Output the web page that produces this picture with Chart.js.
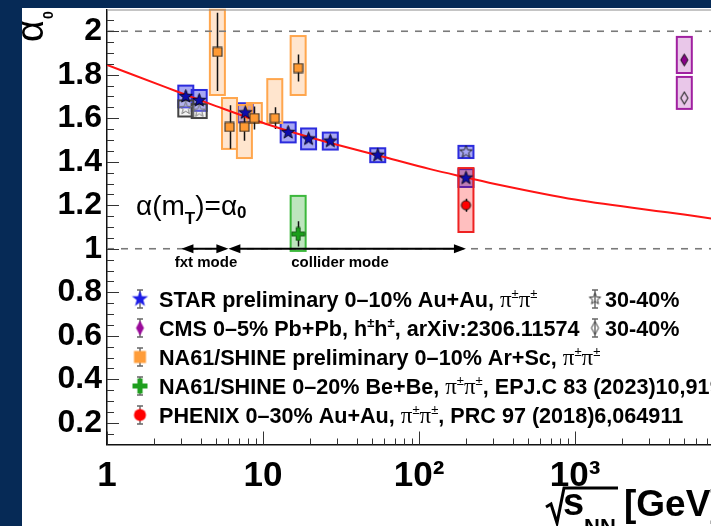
<!DOCTYPE html>
<html>
<head>
<meta charset="utf-8">
<script src="https://cdn.jsdelivr.net/npm/chart.js@4/dist/chart.umd.min.js"></script>
<style>
  html, body { margin: 0; padding: 0; width: 711px; height: 526px; overflow: hidden; background: #062a56; }
  #panel { position: absolute; left: 22px; top: 8px; width: 760px; height: 530px; background: #ffffff; }
  #c { position: absolute; left: 0; top: 0; }
</style>
</head>
<body>
<div id="panel"><canvas id="c" width="740" height="518"></canvas></div>
<script>
// ---------- axis ticks ----------
const xTickValues = [1, 10, 100, 1000];
const xTickLabels = ['1', '10', '10²', '10³'];
const yTickValues = [0.2, 0.4, 0.6, 0.8, 1.0, 1.2, 1.4, 1.6, 1.8, 2.0];
const yTickLabels = ['0.2', '0.4', '0.6', '0.8', '1', '1.2', '1.4', '1.6', '1.8', '2'];

// ---------- STAR preliminary, Au+Au, pi pi ----------
const starEnergy = [3.2, 3.9, 7.7, 14.5, 19.6, 27, 54.4, 200];
const starAlpha  = [1.700, 1.682, 1.625, 1.535, 1.505, 1.495, 1.430, 1.325];
const starSys    = [0.050, 0.048, 0.044, 0.046, 0.048, 0.039, 0.032, 0.041];

const star3040FxtEnergy = [3.2, 3.9];
const star3040FxtAlpha  = [1.645, 1.633];
const star3040FxtSys    = [0.037, 0.032];

const star3040ColEnergy = [200];
const star3040ColAlpha  = [1.445];
const star3040ColSys    = [0.028];

// ---------- CMS Pb+Pb, h h ----------
const cmsEnergy      = [5020];
const cmsAlpha       = [1.868];
const cmsSysLow      = [1.808];
const cmsSysHigh     = [1.974];
const cms3040Alpha   = [1.693];
const cms3040SysLow  = [1.643];
const cms3040SysHigh = [1.790];

// ---------- NA61/SHINE Ar+Sc ----------
const arscEnergy  = [5.1, 6.1, 7.6, 8.8, 11.9, 16.8];
const arscAlpha   = [1.905, 1.560, 1.560, 1.601, 1.601, 1.831];
const arscStat    = [0.180, 0.100, 0.063, 0.053, 0.050, 0.062];
const arscSysLow  = [1.707, 1.459, 1.417, 1.578, 1.578, 1.707];
const arscSysHigh = [2.100, 1.693, 1.661, 1.670, 1.780, 1.978];

// ---------- NA61/SHINE Be+Be ----------
const bebeEnergy  = [16.8];
const bebeAlpha   = [1.068];
const bebeStat    = [0.058];
const bebeSysLow  = [0.990];
const bebeSysHigh = [1.243];

// ---------- PHENIX Au+Au ----------
const phenixEnergy  = [200];
const phenixAlpha   = [1.200];
const phenixStat    = [0.030];
const phenixSysLow  = [1.077];
const phenixSysHigh = [1.371];

// ---------- trend curve ----------
const fitEnergy = [1, 2.35, 5, 11, 23, 55, 118, 200, 330, 1000, 5000, 7450, 10000];
const fitAlpha  = [1.845, 1.744, 1.656, 1.569, 1.500, 1.429, 1.366, 1.328, 1.293, 1.226, 1.157, 1.139, 1.127];

// ---------- reference levels and energy regimes ----------
const refLevels = [1.0, 2.0];
const xRange = [1, 10000];
const fxtRange = [3.0, 6.0];
const colliderRange = [6.0, 200];

// ---------- marker images ----------
function buildMarker(w, h, paint) {
  const c = document.createElement('canvas');
  c.width = w; c.height = h;
  paint(c.getContext('2d'), w / 2, h / 2);
  return c;
}
function starPath(g, cx, cy, R, r) {
  g.beginPath();
  for (let k = 0; k < 10; k++) {
    const rad = k % 2 ? r : R;
    const a = -Math.PI / 2 + k * Math.PI / 5;
    g.lineTo(cx + rad * Math.cos(a), cy + rad * Math.sin(a));
  }
  g.closePath();
}
function diamondPath(g, cx, cy, hw, hh) {
  g.beginPath();
  g.moveTo(cx, cy - hh); g.lineTo(cx + hw, cy); g.lineTo(cx, cy + hh); g.lineTo(cx - hw, cy);
  g.closePath();
}
function crossPath(g, cx, cy, L, t) {
  g.beginPath();
  g.moveTo(cx - t, cy - L); g.lineTo(cx + t, cy - L); g.lineTo(cx + t, cy - t); g.lineTo(cx + L, cy - t);
  g.lineTo(cx + L, cy + t); g.lineTo(cx + t, cy + t); g.lineTo(cx + t, cy + L); g.lineTo(cx - t, cy + L);
  g.lineTo(cx - t, cy + t); g.lineTo(cx - L, cy + t); g.lineTo(cx - L, cy - t); g.lineTo(cx - t, cy - t);
  g.closePath();
}

const mStar = buildMarker(17, 17, (g, x, y) => { starPath(g, x, y, 7, 2.9); g.fillStyle = '#0c0cae'; g.fill(); g.lineWidth = 0.8; g.strokeStyle = '#000'; g.stroke(); });
const mStarOpen = buildMarker(17, 17, (g, x, y) => { starPath(g, x, y, 6.5, 2.7); g.lineWidth = 1; g.strokeStyle = '#222'; g.stroke(); });
const mStarOpenGray = buildMarker(17, 17, (g, x, y) => { starPath(g, x, y, 6.5, 2.7); g.lineWidth = 1; g.strokeStyle = '#777'; g.stroke(); });
const mDiamond = buildMarker(11, 15, (g, x, y) => { diamondPath(g, x, y, 3.6, 6); g.fillStyle = '#8b008b'; g.fill(); g.lineWidth = 1; g.strokeStyle = '#111'; g.stroke(); });
const mDiamondOpen = buildMarker(11, 15, (g, x, y) => { diamondPath(g, x, y, 3.6, 6); g.lineWidth = 1.1; g.strokeStyle = '#222'; g.stroke(); });
const mSquare = buildMarker(11, 11, (g, x, y) => { g.fillStyle = '#ff9a33'; g.fillRect(x - 4.5, y - 4.5, 9, 9); g.lineWidth = 1; g.strokeStyle = '#222'; g.strokeRect(x - 4.5, y - 4.5, 9, 9); });
const mCross = buildMarker(15, 15, (g, x, y) => { crossPath(g, x, y, 6.5, 2); g.fillStyle = '#1a9e1a'; g.fill(); g.lineWidth = 0.8; g.strokeStyle = '#0a4a0a'; g.stroke(); });
const mCircle = buildMarker(13, 13, (g, x, y) => { g.beginPath(); g.arc(x, y, 4.6, 0, Math.PI * 2); g.fillStyle = '#ff0000'; g.fill(); g.lineWidth = 1; g.strokeStyle = '#111'; g.stroke(); });

// legend glyphs
const lStar = buildMarker(19, 19, (g, x, y) => { starPath(g, x, y, 8.5, 3.5); g.fillStyle = '#1c1ce6'; g.fill(); });
const lStarOpen = buildMarker(15, 15, (g, x, y) => { starPath(g, x, y, 6, 2.5); g.lineWidth = 1; g.strokeStyle = '#333'; g.stroke(); });
const lDiamond = buildMarker(11, 17, (g, x, y) => { diamondPath(g, x, y, 4, 7.5); g.fillStyle = '#9a0a9a'; g.fill(); });
const lDiamondOpen = buildMarker(11, 17, (g, x, y) => { diamondPath(g, x, y, 3.6, 6.5); g.lineWidth = 1; g.strokeStyle = '#333'; g.stroke(); });
const lSquare = buildMarker(15, 15, (g, x, y) => { g.fillStyle = '#ff9d3a'; g.fillRect(x - 6, y - 6, 12, 12); });
const lCross = buildMarker(17, 17, (g, x, y) => { crossPath(g, x, y, 7.5, 2.6); g.fillStyle = '#1f9f1f'; g.fill(); });
const lCircle = buildMarker(15, 15, (g, x, y) => { g.beginPath(); g.arc(x, y, 6, 0, Math.PI * 2); g.fillStyle = '#ff0000'; g.fill(); });

// ---------- helpers ----------
const pts = (xs, ys) => xs.map((x, i) => ({ x: x, y: ys[i] }));
const lowOf = (a, s) => a.map((v, i) => v - s[i]);
const highOf = (a, s) => a.map((v, i) => v + s[i]);
const zeros = n => new Array(n).fill(0);

const boxStyles = {
  star:   { stroke: '#2b2bdd', fill: 'rgba(60,60,230,0.45)' },
  gray:   { stroke: '#444444', fill: 'rgba(210,210,210,0.25)' },
  cms:    { stroke: '#a020a0', fill: 'rgba(153,0,153,0.22)' },
  na61:   { stroke: '#ffa64d', fill: 'rgba(255,150,60,0.25)' },
  bebe:   { stroke: '#3cb83c', fill: 'rgba(40,170,40,0.30)' },
  phenix: { stroke: '#ee2222', fill: 'rgba(255,0,0,0.25)' }
};

function markerSet(label, xs, ys, img, lo, hi, stat, box, order) {
  return {
    type: 'scatter', label: label, data: pts(xs, ys), pointStyle: img, pointRadius: 5,
    showLine: false, order: order, sysLow: lo, sysHigh: hi, statErr: stat, box: box
  };
}

const datasets = [
  markerSet('PHENIX 0-30%', phenixEnergy, phenixAlpha, mCircle, phenixSysLow, phenixSysHigh, phenixStat, boxStyles.phenix, 1),
  markerSet('NA61 Be+Be', bebeEnergy, bebeAlpha, mCross, bebeSysLow, bebeSysHigh, bebeStat, boxStyles.bebe, 1),
  markerSet('NA61 Ar+Sc', arscEnergy, arscAlpha, mSquare, arscSysLow, arscSysHigh, arscStat, boxStyles.na61, 1),
  markerSet('CMS 0-5%', cmsEnergy, cmsAlpha, mDiamond, cmsSysLow, cmsSysHigh, zeros(1), boxStyles.cms, 1),
  markerSet('CMS 30-40%', cmsEnergy, cms3040Alpha, mDiamondOpen, cms3040SysLow, cms3040SysHigh, zeros(1), boxStyles.cms, 1),
  markerSet('STAR 0-10%', starEnergy, starAlpha, mStar, lowOf(starAlpha, starSys), highOf(starAlpha, starSys), zeros(starEnergy.length), boxStyles.star, 2),
  markerSet('STAR 30-40% fxt', star3040FxtEnergy, star3040FxtAlpha, mStarOpenGray, lowOf(star3040FxtAlpha, star3040FxtSys), highOf(star3040FxtAlpha, star3040FxtSys), zeros(2), boxStyles.gray, 3),
  markerSet('STAR 30-40%', star3040ColEnergy, star3040ColAlpha, mStarOpen, lowOf(star3040ColAlpha, star3040ColSys), highOf(star3040ColAlpha, star3040ColSys), zeros(1), boxStyles.star, 2),
  {
    type: 'line', label: 'trend', data: pts(fitEnergy, fitAlpha), borderColor: '#ff1414', borderWidth: 2,
    pointRadius: 0, cubicInterpolationMode: 'monotone', fill: false, order: 4
  }
].concat(refLevels.map(level => ({
  type: 'line', label: 'level ' + level, data: pts(xRange, [level, level]), borderColor: '#7a7a7a',
  borderWidth: 1.6, borderDash: [7, 7], pointRadius: 0, fill: false, order: 8
})));

// ---------- canvas placement (page -> canvas coordinates) ----------
const OX = 22, OY = 8;

// text runs: [font, text, dy]
const F  = 'bold 21.6px "Liberation Sans"';
const PI = '23px "Liberation Serif"';
const SUP = '13px "Liberation Sans"';
const SUPB = 'bold 13px "Liberation Sans"';
const piPi = [[PI, 'π'], [SUP, '±', -9], [PI, 'π'], [SUP, '±', -9]];

const legendRows = [
  { glyph: lStar, parts: [[F, 'STAR preliminary 0–10% Au+Au, ']].concat(piPi),
    extra: { glyph: lStarOpen, parts: [[F, '30-40%']] } },
  { glyph: lDiamond, parts: [[F, 'CMS 0–5% Pb+Pb, h'], [SUPB, '±', -9], [F, 'h'], [SUPB, '±', -9], [F, ', arXiv:2306.11574']],
    extra: { glyph: lDiamondOpen, parts: [[F, '30-40%']] } },
  { glyph: lSquare, parts: [[F, 'NA61/SHINE preliminary 0–10% Ar+Sc, ']].concat(piPi) },
  { glyph: lCross, parts: [[F, 'NA61/SHINE 0–20% Be+Be, ']].concat(piPi).concat([[F, ', EPJ.C 83 (2023)10,919']]) },
  { glyph: lCircle, parts: [[F, 'PHENIX 0–30% Au+Au, ']].concat(piPi).concat([[F, ', PRC 97 (2018)6,064911']]) }
];

function drawRuns(ctx, x, y, parts) {
  for (const p of parts) {
    ctx.font = p[0];
    ctx.fillText(p[1], x, y + (p[2] || 0));
    x += ctx.measureText(p[1]).width;
  }
  return x;
}
function legendErrorBar(ctx, x, y) {
  ctx.strokeStyle = '#666'; ctx.lineWidth = 1.4;
  ctx.beginPath();
  ctx.moveTo(x, y - 9); ctx.lineTo(x, y + 9);
  ctx.moveTo(x - 3, y - 9); ctx.lineTo(x + 3, y - 9);
  ctx.moveTo(x - 3, y + 9); ctx.lineTo(x + 3, y + 9);
  ctx.stroke();
}
function arrowHead(ctx, tipX, y, dir) {
  ctx.beginPath();
  ctx.moveTo(tipX, y);
  ctx.lineTo(tipX - dir * 12, y - 4.5);
  ctx.lineTo(tipX - dir * 12, y + 4.5);
  ctx.closePath();
  ctx.fill();
}

const decorations = {
  id: 'decorations',
  beforeDatasetsDraw(chart) {
    const ctx = chart.ctx, area = chart.chartArea;
    const xs = chart.scales.x, ys = chart.scales.y;
    ctx.save();
    ctx.beginPath(); ctx.rect(area.left, area.top - 1, area.right - area.left, area.bottom - area.top + 1); ctx.clip();
    // systematic boxes
    const order = [5, 6, 7, 2, 1, 0, 3, 4];
    for (const i of order) {
      const ds = chart.data.datasets[i];
      ds.data.forEach((p, j) => {
        const px = xs.getPixelForValue(p.x);
        const top = ys.getPixelForValue(ds.sysHigh[j]);
        const bot = ys.getPixelForValue(ds.sysLow[j]);
        ctx.fillStyle = ds.box.fill;
        ctx.fillRect(px - 7.5, top, 15, bot - top);
        ctx.strokeStyle = ds.box.stroke; ctx.lineWidth = 2;
        ctx.strokeRect(px - 7.5, top, 15, bot - top);
      });
    }
    // statistical error bars
    ctx.strokeStyle = '#111'; ctx.lineWidth = 1.5;
    chart.data.datasets.forEach(ds => {
      if (!ds.statErr) return;
      ds.data.forEach((p, j) => {
        if (!ds.statErr[j]) return;
        const px = Math.round(xs.getPixelForValue(p.x)) + 0.5;
        ctx.beginPath();
        ctx.moveTo(px, ys.getPixelForValue(p.y + ds.statErr[j]));
        ctx.lineTo(px, ys.getPixelForValue(p.y - ds.statErr[j]));
        ctx.stroke();
      });
    });
    ctx.restore();
  },
  afterDatasetsDraw(chart) {
    const ctx = chart.ctx, area = chart.chartArea;
    const xs = chart.scales.x, ys = chart.scales.y;
    ctx.save();
    // frame top
    ctx.strokeStyle = '#8a8a8a'; ctx.lineWidth = 1;
    ctx.beginPath(); ctx.moveTo(area.left, area.top + 0.5); ctx.lineTo(area.right, area.top + 0.5); ctx.stroke();
    // inward tick marks
    ctx.strokeStyle = '#333'; ctx.lineWidth = 1;
    ctx.beginPath();
    for (let d = 0; d < 4; d++) {
      for (let k = 1; k <= 9; k++) {
        const v = k * Math.pow(10, d);
        const px = Math.round(xs.getPixelForValue(v)) + 0.5;
        ctx.moveTo(px, area.bottom); ctx.lineTo(px, area.bottom - (k === 1 ? 13 : 6));
      }
    }
    for (let k = 3; k <= 41; k++) {
      const py = Math.round(ys.getPixelForValue(k * 0.05)) + 0.5;
      ctx.moveTo(area.left, py); ctx.lineTo(area.left + (k % 4 === 0 ? 12 : 7), py);
    }
    ctx.stroke();
    // energy regime arrows on the unity line
    const ay = ys.getPixelForValue(1.0);
    ctx.strokeStyle = '#000'; ctx.fillStyle = '#000'; ctx.lineWidth = 2;
    [fxtRange, colliderRange].forEach(r => {
      const a = xs.getPixelForValue(r[0]), b = xs.getPixelForValue(r[1]);
      ctx.beginPath(); ctx.moveTo(a + 6, ay); ctx.lineTo(b - 6, ay); ctx.stroke();
      arrowHead(ctx, a, ay, -1);
      arrowHead(ctx, b, ay, 1);
    });
    ctx.font = 'bold 15px "Liberation Sans"';
    ctx.textAlign = 'center'; ctx.textBaseline = 'alphabetic';
    ctx.fillText('fxt mode', 206 - OX, 267 - OY);
    ctx.fillText('collider mode', 340 - OX, 267 - OY);
    // alpha(m_T) = alpha_0
    ctx.textAlign = 'left';
    let x = 136 - OX;
    const base = 215 - OY;
    x = drawRuns(ctx, x, base, [['28px "Liberation Sans"', 'α(m']]);
    x = drawRuns(ctx, x, base + 9, [['bold 17px "Liberation Sans"', 'T']]);
    x = drawRuns(ctx, x, base, [['28px "Liberation Sans"', ')=α']]);
    drawRuns(ctx, x, base + 3, [['bold 17px "Liberation Sans"', '0']]);
    ctx.restore();
  },
  afterDraw(chart) {
    const ctx = chart.ctx;
    ctx.save();
    ctx.fillStyle = '#000'; ctx.textAlign = 'left'; ctx.textBaseline = 'alphabetic';
    // legend
    legendRows.forEach((row, i) => {
      const base = 307 + i * 29 - OY;
      const cy = base - 8;
      const mx = 140 - OX;
      legendErrorBar(ctx, mx, cy);
      ctx.drawImage(row.glyph, mx - row.glyph.width / 2, cy - row.glyph.height / 2);
      ctx.fillStyle = '#000';
      drawRuns(ctx, 159 - OX, base, row.parts);
      if (row.extra) {
        const ex = 595 - OX;
        legendErrorBar(ctx, ex, cy);
        ctx.drawImage(row.extra.glyph, ex - row.extra.glyph.width / 2, cy - row.extra.glyph.height / 2);
        ctx.fillStyle = '#000';
        drawRuns(ctx, 605 - OX, base, row.extra.parts);
      }
    });
    // y title: alpha_0 rotated
    ctx.save();
    ctx.translate(43 - OX, 42 - OY);
    ctx.rotate(-Math.PI / 2);
    ctx.font = '38px "Liberation Sans"';
    ctx.fillText('α', 0, 0);
    ctx.font = 'bold 14px "Liberation Sans"';
    ctx.fillText('0', 23, 10);
    ctx.restore();
    // x title: sqrt(s_NN) [GeV]
    ctx.strokeStyle = '#000'; ctx.lineWidth = 3; ctx.lineJoin = 'miter';
    ctx.beginPath();
    ctx.moveTo(546 - OX, 507 - OY); ctx.lineTo(551 - OX, 504 - OY);
    ctx.lineTo(557 - OX, 523 - OY); ctx.lineTo(564 - OX, 488 - OY); ctx.lineTo(618 - OX, 488 - OY);
    ctx.stroke();
    drawRuns(ctx, 563 - OX, 515 - OY, [['bold 38px "Liberation Sans"', 's']]);
    drawRuns(ctx, 584 - OX, 534 - OY, [['bold 22px "Liberation Sans"', 'NN']]);
    drawRuns(ctx, 624 - OX, 516 - OY, [['bold 37px "Liberation Sans"', '[GeV]']]);
    ctx.restore();
  }
};

new Chart(document.getElementById('c'), {
  type: 'scatter',
  data: { datasets: datasets },
  plugins: [decorations],
  options: {
    responsive: false,
    animation: false,
    events: [],
    layout: { autoPadding: false, padding: { top: 1.5, right: 31, left: 0, bottom: 0 } },
    plugins: { legend: { display: false }, tooltip: { enabled: false } },
    scales: {
      x: {
        type: 'logarithmic', min: xRange[0], max: xRange[1],
        grid: { display: false, drawTicks: false },
        border: { display: true, color: '#111', width: 1.5 },
        afterBuildTicks: s => { s.ticks = xTickValues.map(v => ({ value: v, major: true })); },
        afterFit: s => { s.height = 81.5; s.paddingLeft = 0; s.paddingRight = 0; },
        ticks: {
          autoSkip: false, maxRotation: 0, padding: 11, color: '#000',
          font: { family: 'Liberation Sans', size: 35, weight: 'bold' },
          callback: (v, i) => xTickLabels[i]
        }
      },
      y: {
        type: 'linear', min: 0.1, max: 2.1,
        grid: { display: false, drawTicks: false },
        border: { display: true, color: '#111', width: 1.5 },
        afterBuildTicks: s => { s.ticks = yTickValues.map(v => ({ value: v })); },
        afterFit: s => { s.width = 85; s.paddingTop = 0; s.paddingBottom = 0; },
        ticks: {
          padding: 5, color: '#000',
          font: { family: 'Liberation Sans', size: 32, weight: 'bold' },
          callback: (v, i) => yTickLabels[i]
        }
      }
    }
  }
});
</script>
</body>
</html>
